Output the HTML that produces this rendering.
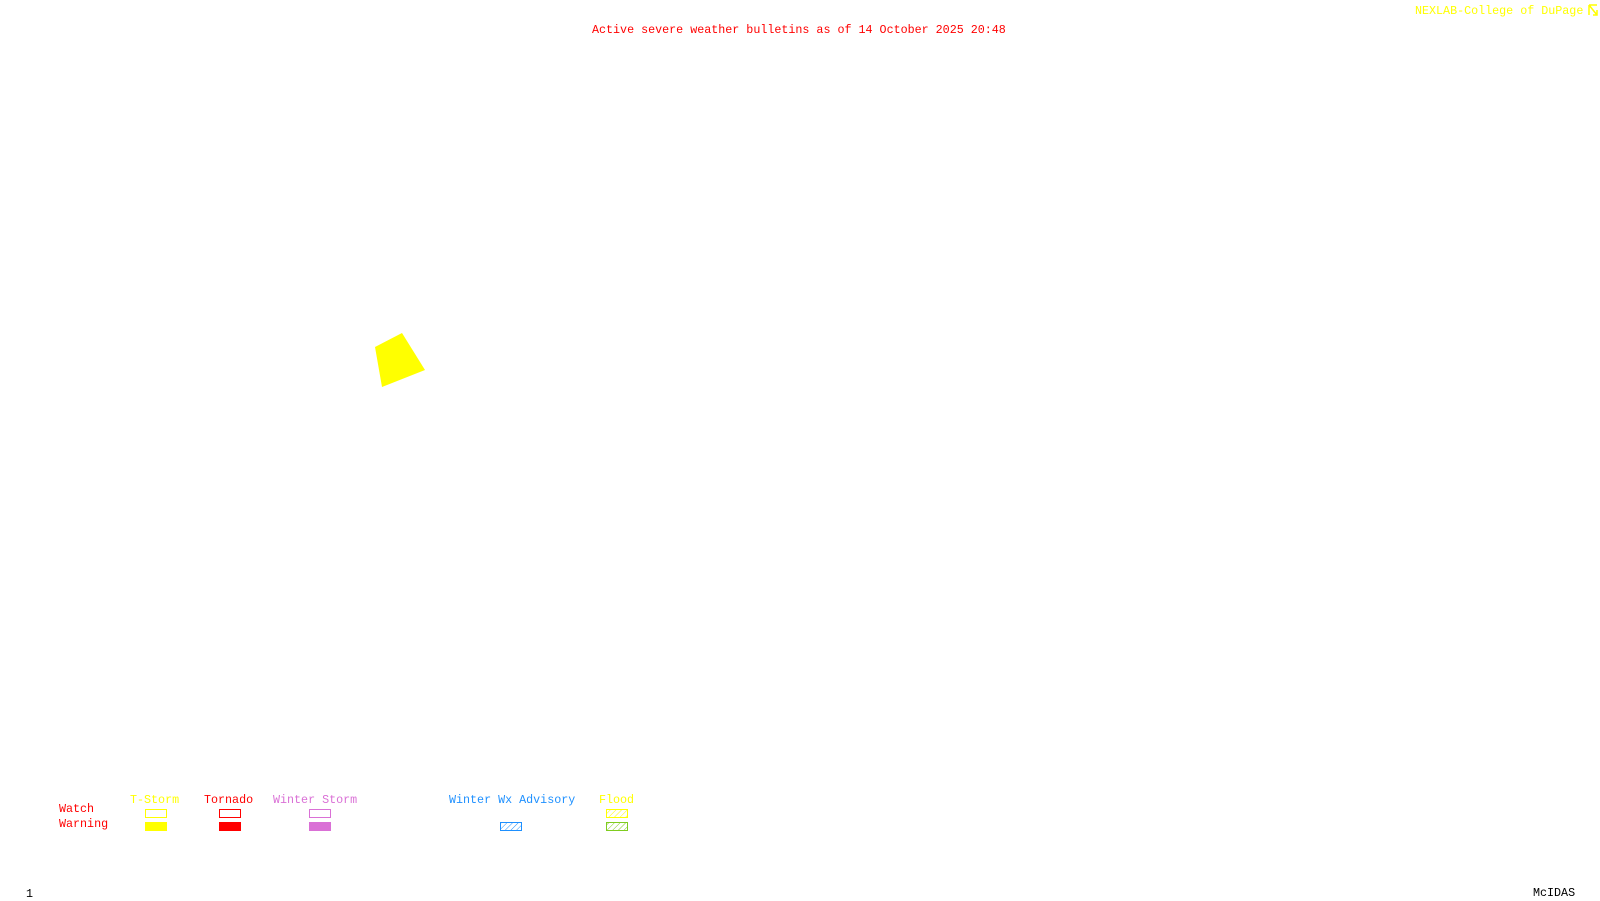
<!DOCTYPE html>
<html><head><style>
body{margin:0;width:1600px;height:900px;background:#fff;position:relative;overflow:hidden;font-family:"Liberation Mono",monospace;font-size:11.7px}
.t{position:absolute;white-space:nowrap;line-height:12px}
.b{position:absolute;box-sizing:border-box;width:22px;height:9px}
</style></head><body>
<div class="t" style="left:592px;top:24px;color:#f00">Active severe weather bulletins as of 14 October 2025 20:48</div>
<div class="t" style="left:1415px;top:5px;color:#ff0">NEXLAB-College of DuPage</div>
<svg style="position:absolute;left:1588px;top:4px" width="10" height="12"><path d="M1 1H9M1 1V11M1 1L9 11M5 11H9V6" stroke="#ff0" fill="none" stroke-width="1.5"/></svg>
<svg style="position:absolute;left:0;top:0" width="1600" height="900">
<polygon points="375,347 402,333 425,370 382,387" fill="#ff0"/>
<defs>
<pattern id="h1" width="4" height="4" patternUnits="userSpaceOnUse" patternTransform="rotate(45)"><line x1="0" y1="0" x2="0" y2="4" stroke="#1e90ff" stroke-width="1"/></pattern>
<pattern id="h2" width="4" height="4" patternUnits="userSpaceOnUse" patternTransform="rotate(45)"><line x1="0" y1="0" x2="0" y2="4" stroke="#ff0" stroke-width="1"/></pattern>
<pattern id="h3" width="4" height="4" patternUnits="userSpaceOnUse" patternTransform="rotate(45)"><line x1="0" y1="0" x2="0" y2="4" stroke="#7fcc1f" stroke-width="1"/></pattern>
</defs>
<rect x="500.5" y="822.5" width="21" height="8" fill="url(#h1)" stroke="#1e90ff"/>
<rect x="606.5" y="809.5" width="21" height="8" fill="url(#h2)" stroke="#ff0"/>
<rect x="606.5" y="822.5" width="21" height="8" fill="url(#h3)" stroke="#7fcc1f"/>
</svg>
<div class="t" style="left:59px;top:803px;color:#f00">Watch</div>
<div class="t" style="left:59px;top:818px;color:#f00">Warning</div>
<div class="t" style="left:130px;top:794px;color:#ff0">T-Storm</div>
<div class="t" style="left:204px;top:794px;color:#f00">Tornado</div>
<div class="t" style="left:273px;top:794px;color:#da70d6">Winter Storm</div>
<div class="t" style="left:449px;top:794px;color:#1e90ff">Winter Wx Advisory</div>
<div class="t" style="left:599px;top:794px;color:#ff0">Flood</div>
<div class="b" style="left:145px;top:809px;border:1.5px solid #ff0"></div>
<div class="b" style="left:145px;top:822px;background:#ff0"></div>
<div class="b" style="left:219px;top:809px;border:1.5px solid #f00"></div>
<div class="b" style="left:219px;top:822px;background:#f00"></div>
<div class="b" style="left:309px;top:809px;border:1.5px solid #da70d6"></div>
<div class="b" style="left:309px;top:822px;background:#da70d6"></div>
<div class="t" style="left:26px;top:888px;color:#000">1</div>
<div class="t" style="left:1533px;top:887px;color:#000">McIDAS</div>
</body></html>
